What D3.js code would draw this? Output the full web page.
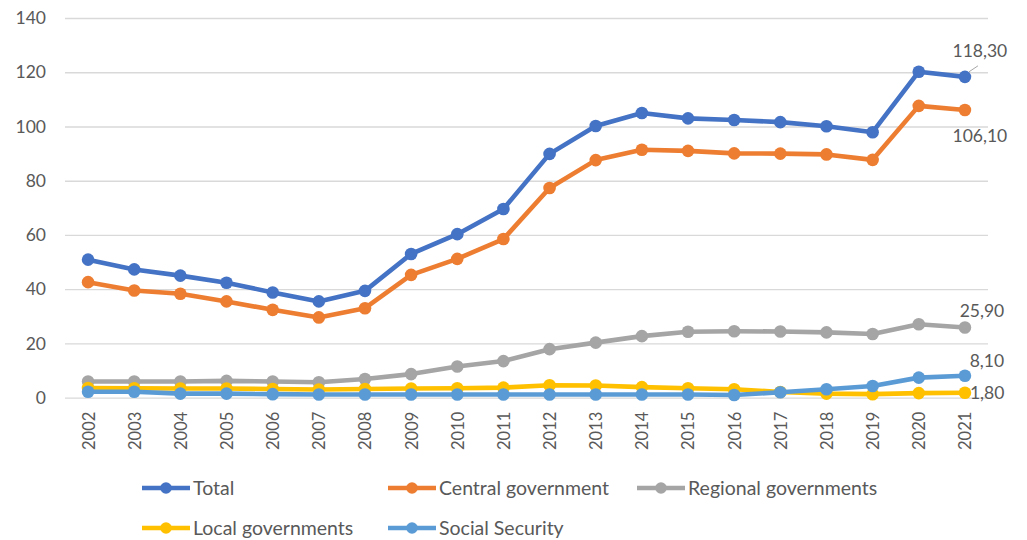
<!DOCTYPE html>
<html>
<head>
<meta charset="utf-8">
<script src="https://cdn.jsdelivr.net/npm/d3@7"></script>
<style>
  html, body { margin: 0; padding: 0; background: #ffffff; }
  svg { display: block; }
  text { font-family: Lato, "Open Sans", sans-serif; fill: #595959; }
</style>
</head>
<body>
<svg id="chart" width="1027" height="540"></svg>
<script>
// Public debt by sub-sector, 2002–2021
const years = ["2002","2003","2004","2005","2006","2007","2008","2009","2010","2011",
               "2012","2013","2014","2015","2016","2017","2018","2019","2020","2021"];

const total     = [50.9, 47.3, 45.0, 42.4, 38.8, 35.5, 39.4, 53.0, 60.3, 69.6,
                   89.9, 100.2, 105.0, 103.0, 102.4, 101.6, 100.1, 97.9, 120.2, 118.3];
const central   = [42.6, 39.5, 38.3, 35.5, 32.4, 29.6, 33.0, 45.3, 51.2, 58.5,
                   77.3, 87.6, 91.4, 91.0, 90.1, 90.0, 89.7, 87.7, 107.6, 106.1];
const regional  = [6.0, 6.0, 6.0, 6.2, 6.0, 5.7, 6.9, 8.7, 11.5, 13.5,
                   17.9, 20.3, 22.7, 24.3, 24.5, 24.4, 24.1, 23.5, 27.1, 25.9];
const local     = [3.6, 3.5, 3.4, 3.4, 3.2, 3.0, 3.2, 3.4, 3.5, 3.7,
                   4.6, 4.5, 3.9, 3.5, 3.1, 2.1, 1.5, 1.3, 1.7, 1.8];
const social    = [2.2, 2.2, 1.5, 1.5, 1.3, 1.2, 1.2, 1.2, 1.2, 1.2,
                   1.2, 1.2, 1.2, 1.2, 1.0, 2.0, 3.1, 4.3, 7.4, 8.1];

const seriesNames  = ["Total", "Central government", "Regional governments", "Local governments", "Social Security"];
const seriesValues = [total, central, regional, local, social];
const seriesColors = ["#4472C4", "#ED7D31", "#A5A5A5", "#FFC000", "#5B9BD5"];
const yTicks = [0, 20, 40, 60, 80, 100, 120, 140];

const fmt = v => v.toFixed(2).replace(".", ",");

const svg = d3.select("#chart");
const plot = { left: 65, right: 988, top: 18, bottom: 397.7 };

const x = d3.scalePoint().domain(years).range([plot.left, plot.right]).padding(0.5);
const y = d3.scaleLinear().domain([0, 140]).range([plot.bottom, plot.top]);

// horizontal gridlines + value axis labels
const yAxis = d3.axisLeft(y).tickValues(yTicks).tickSize(-(plot.right - plot.left)).tickPadding(19);
const gy = svg.append("g").attr("transform", `translate(${plot.left},0)`).call(yAxis);
gy.select(".domain").remove();
gy.selectAll(".tick line").attr("stroke", "#d9d9d9").attr("stroke-width", 1.3);
gy.selectAll(".tick text").style("font-size", "17.5px").attr("fill", "#595959");

// category axis with rotated year labels
const xAxis = d3.axisBottom(x).tickSize(0).tickPadding(0);
const gx = svg.append("g").attr("transform", `translate(0,${plot.bottom})`).call(xAxis);
gx.select(".domain").remove();
gx.selectAll(".tick text")
  .style("font-size", "16.5px")
  .attr("fill", "#595959")
  .attr("text-anchor", "end")
  .attr("transform", "rotate(-90)")
  .attr("x", -14)
  .attr("y", 0)
  .attr("dy", "0.36em");

// series lines and markers
const line = d3.line().x((d, i) => x(years[i])).y(d => y(d));
seriesValues.forEach((vals, s) => {
  const g = svg.append("g");
  g.append("path")
    .datum(vals)
    .attr("d", line)
    .attr("fill", "none")
    .attr("stroke", seriesColors[s])
    .attr("stroke-width", 4.6)
    .attr("stroke-linejoin", "round");
  g.selectAll("circle").data(vals).join("circle")
    .attr("cx", (d, i) => x(years[i]))
    .attr("cy", d => y(d))
    .attr("r", 6.3)
    .attr("fill", seriesColors[s]);
});

// end-of-series value labels
const last = years.length - 1;
const lx = x(years[last]);
const labels = [
  { v: total[last],    dx: 15, dy: -20, anchor: "middle" },
  { v: central[last],  dx: 15, dy: 32,  anchor: "middle" },
  { v: regional[last], dx: 17, dy: -10, anchor: "middle" },
  { v: social[last],   dx: 22, dy: -9,  anchor: "middle" },
  { v: local[last],    dx: 5,  dy: 6,   anchor: "start" }
];
labels.forEach(l => {
  svg.append("text")
    .attr("x", lx + l.dx)
    .attr("y", y(l.v) + l.dy)
    .attr("text-anchor", l.anchor)
    .style("font-size", "17.5px")
    .text(fmt(l.v));
});
// leader line for the Total label
svg.append("line")
  .attr("x1", lx + 4).attr("y1", y(total[last]) - 5)
  .attr("x2", lx + 13).attr("y2", y(total[last]) - 11)
  .attr("stroke", "#a6a6a6").attr("stroke-width", 1);

// legend, three columns over two rows
const legendCols = [142, 388, 637];
const legendRows = [488, 528];
seriesNames.forEach((name, i) => {
  const cx = legendCols[i % 3];
  const cy = legendRows[Math.floor(i / 3)];
  const g = svg.append("g").attr("transform", `translate(${cx},${cy})`);
  g.append("line").attr("x1", 0).attr("x2", 48).attr("y1", 0).attr("y2", 0)
    .attr("stroke", seriesColors[i]).attr("stroke-width", 4.6);
  g.append("circle").attr("cx", 24).attr("cy", 0).attr("r", 5.8).attr("fill", seriesColors[i]);
  g.append("text").attr("x", 51).attr("y", 0).attr("dy", "0.36em")
    .style("font-size", "19.5px").text(name);
});
</script>
</body>
</html>
